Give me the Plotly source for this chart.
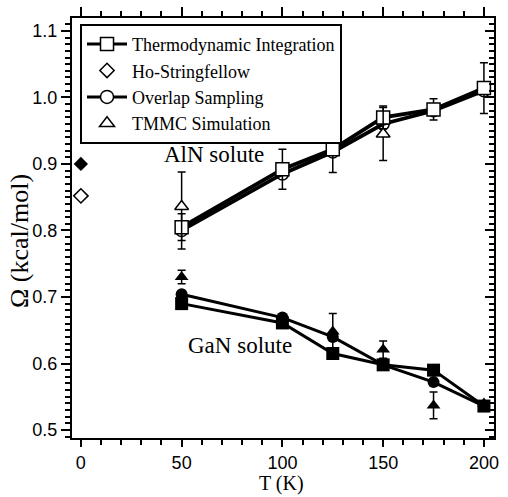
import plotly.graph_objects as go

# ---------------- data ----------------
T = [50, 100, 125, 150, 175, 200]

# AlN solute (open symbols)
aln_ti = [0.805, 0.892, 0.922, 0.970, 0.982, 1.014]
aln_ti_err = [0.020, 0.030, 0.035, 0.017, 0.016, 0.038]
aln_os = [0.800, 0.885, 0.918, 0.960, 0.980, 1.010]
aln_tmmc_T = [50, 150]
aln_tmmc = [0.836, 0.945]
aln_tmmc_err_plus = [0.052, 0.040]
aln_tmmc_err_minus = [0.064, 0.040]

# GaN solute (filled symbols)
gan_ti = [0.690, 0.661, 0.615, 0.598, 0.590, 0.536]
gan_os = [0.704, 0.669, 0.640, 0.598, 0.572, 0.536]
gan_tmmc_T = [50, 125, 150, 175, 200]
gan_tmmc = [0.730, 0.648, 0.621, 0.537, 0.540]
gan_tmmc_err = [0.010, 0.027, 0.013, 0.020, 0.0]

# Ho-Stringfellow at T = 0
hs_T = [0]
hs_aln = [0.852]
hs_gan = [0.900]

BLACK = "black"
SERIF = "Liberation Serif"
SANS = "Liberation Sans"

fig = go.Figure()

# AlN lines
fig.add_trace(go.Scatter(
    x=T, y=aln_os, mode="lines+markers", name="Overlap Sampling",
    line=dict(color=BLACK, width=3.8),
    marker=dict(symbol="circle-open", size=12, color=BLACK, line=dict(width=1.5)),
    showlegend=False))
fig.add_trace(go.Scatter(
    x=T, y=aln_ti, mode="lines+markers", name="Thermodynamic Integration",
    line=dict(color=BLACK, width=3.8),
    marker=dict(symbol="square", size=13, color="white", line=dict(width=1.5, color=BLACK)),
    error_y=dict(type="data", array=aln_ti_err, color=BLACK, thickness=1.5, width=4),
    showlegend=False))
fig.add_trace(go.Scatter(
    x=aln_tmmc_T, y=aln_tmmc, mode="markers", name="TMMC Simulation",
    marker=dict(symbol="triangle-up", size=12, color="white", line=dict(width=1.5, color=BLACK)),
    error_y=dict(type="data", symmetric=False, array=aln_tmmc_err_plus,
                 arrayminus=aln_tmmc_err_minus, color=BLACK, thickness=1.5, width=4),
    showlegend=False))

# GaN lines
fig.add_trace(go.Scatter(
    x=T, y=gan_os, mode="lines+markers",
    line=dict(color=BLACK, width=3),
    marker=dict(symbol="circle", size=12, color=BLACK),
    showlegend=False))
fig.add_trace(go.Scatter(
    x=T, y=gan_ti, mode="lines+markers",
    line=dict(color=BLACK, width=3),
    marker=dict(symbol="square", size=13, color=BLACK),
    showlegend=False))
fig.add_trace(go.Scatter(
    x=gan_tmmc_T, y=gan_tmmc, mode="markers",
    marker=dict(symbol="triangle-up", size=12, color=BLACK),
    error_y=dict(type="data", array=gan_tmmc_err, color=BLACK, thickness=1.5, width=4),
    showlegend=False))

# Ho-Stringfellow
fig.add_trace(go.Scatter(
    x=hs_T, y=hs_aln, mode="markers",
    marker=dict(symbol="diamond-open", size=11, color=BLACK, line=dict(width=1.5)),
    showlegend=False))
fig.add_trace(go.Scatter(
    x=hs_T, y=hs_gan, mode="markers",
    marker=dict(symbol="diamond", size=11, color=BLACK),
    showlegend=False))

# Legend entries
leg = [
    ("Thermodynamic Integration", "lines+markers", "square"),
    ("Ho-Stringfellow", "markers", "diamond"),
    ("Overlap Sampling", "lines+markers", "circle"),
    ("TMMC Simulation", "markers", "triangle-up"),
]
for name, mode, sym in leg:
    fig.add_trace(go.Scatter(
        x=[None], y=[None], mode=mode, name=name,
        line=dict(color=BLACK, width=3),
        marker=dict(symbol=sym, size=13 if sym != "diamond" else 11, color="white",
                    line=dict(width=1.5, color=BLACK)),
        showlegend=True))

tickfont = dict(family=SANS, size=18, color=BLACK)

fig.update_layout(
    width=508, height=497,
    margin=dict(l=72, r=9, t=15, b=59),
    paper_bgcolor="white", plot_bgcolor="white",
    showlegend=True,
    legend=dict(x=0.019, y=0.986, xanchor="left", yanchor="top",
                bgcolor="white", bordercolor=BLACK, borderwidth=2,
                font=dict(family=SERIF, size=18, color=BLACK),
                itemwidth=40, tracegroupgap=0),
    xaxis=dict(range=[-4.4, 205], tickmode="linear", tick0=0, dtick=50,
               showgrid=False, zeroline=False,
               showline=True, linecolor=BLACK, linewidth=2,
               ticks="outside", ticklen=7, tickwidth=2, tickcolor=BLACK,
               tickfont=tickfont,
               minor=dict(dtick=10, ticks="outside", ticklen=5, tickwidth=1.5, tickcolor=BLACK)),
    yaxis=dict(range=[0.488, 1.1194], tickmode="linear", tick0=0.5, dtick=0.1,
               tickformat=".1f",
               showgrid=False, zeroline=False,
               showline=True, linecolor=BLACK, linewidth=2,
               ticks="outside", ticklen=9, tickwidth=2, tickcolor=BLACK,
               tickfont=tickfont,
               minor=dict(dtick=0.01, ticks="outside", ticklen=5, tickwidth=1.5, tickcolor=BLACK)),
    xaxis2=dict(overlaying="x", matches="x", side="top", anchor="y",
                range=[-4.4, 205], tickmode="linear", tick0=0, dtick=50,
                showticklabels=False, showgrid=False, zeroline=False,
                showline=True, linecolor=BLACK, linewidth=2,
                ticks="outside", ticklen=9, tickwidth=2, tickcolor=BLACK,
                minor=dict(dtick=10, ticks="outside", ticklen=5, tickwidth=1.5, tickcolor=BLACK)),
    yaxis2=dict(overlaying="y", matches="y", side="right", anchor="x",
                range=[0.488, 1.1194], tickmode="linear", tick0=0.5, dtick=0.1,
                showticklabels=False, showgrid=False, zeroline=False,
                showline=True, linecolor=BLACK, linewidth=2,
                ticks="inside", ticklen=9, tickwidth=2, tickcolor=BLACK,
                minor=dict(dtick=0.01, ticks="inside", ticklen=5, tickwidth=1.5, tickcolor=BLACK)),
    annotations=[
        dict(x=66, y=0.914, xref="x", yref="y", text="AlN solute", showarrow=False,
             font=dict(family=SERIF, size=23, color=BLACK)),
        dict(x=79, y=0.627, xref="x", yref="y", text="GaN solute", showarrow=False,
             font=dict(family=SERIF, size=23, color=BLACK)),
        dict(x=(284 - 72) / 427, y=(438 - 484) / 423, xref="paper", yref="paper",
             xanchor="center", yanchor="middle",
             text="T (K)", showarrow=False, font=dict(family=SERIF, size=20, color=BLACK)),
        dict(x=(19 - 72) / 427, y=(438 - 240) / 423, xref="paper", yref="paper",
             xanchor="center", yanchor="middle",
             text="Ω (kcal/mol)", textangle=-90, showarrow=False,
             font=dict(family=SERIF, size=26, color=BLACK)),
    ],
)

# invisible trace to ensure the mirrored axes are drawn
fig.add_trace(go.Scatter(x=hs_T, y=hs_aln, xaxis="x2", yaxis="y2", mode="markers",
                         marker=dict(opacity=0), showlegend=False, hoverinfo="skip"))

fig.write_html("out.html")
